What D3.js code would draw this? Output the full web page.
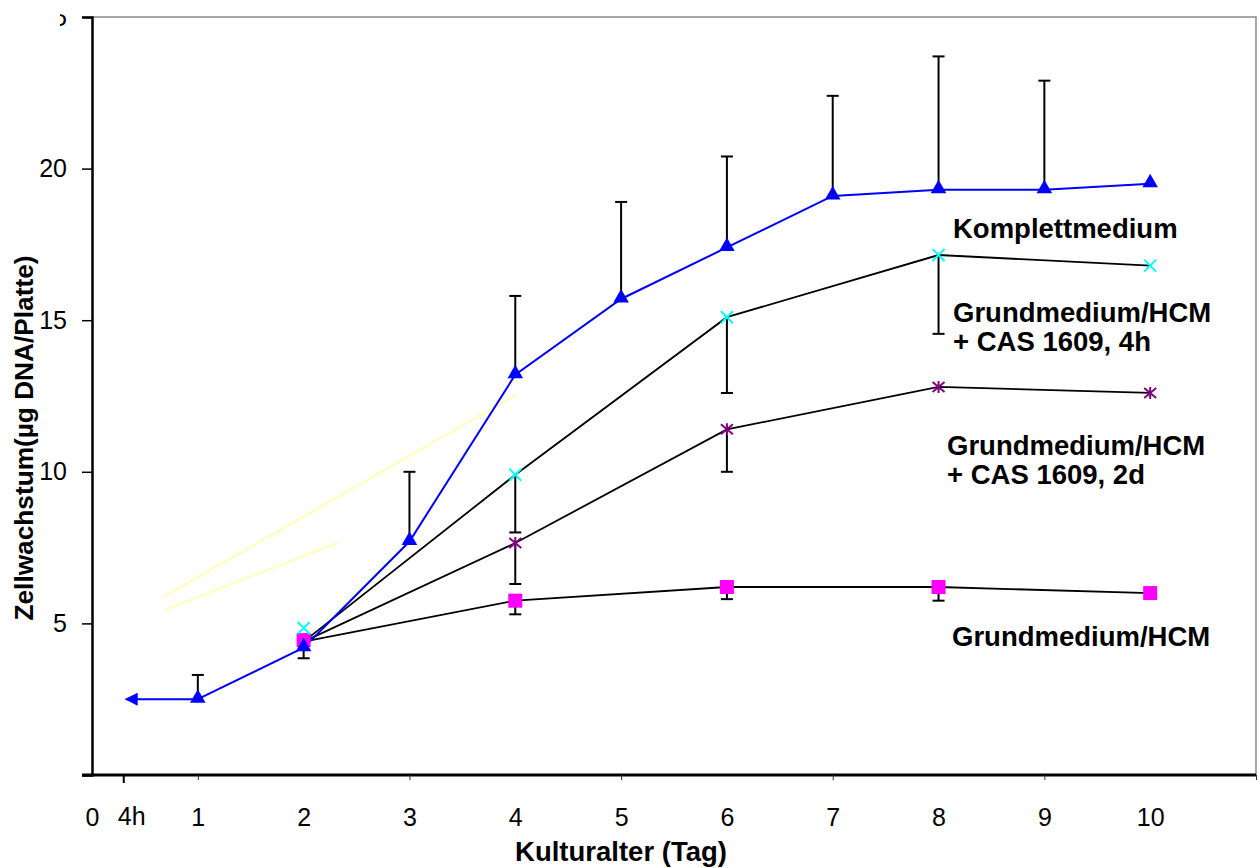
<!DOCTYPE html>
<html>
<head>
<meta charset="utf-8">
<script src="https://cdn.jsdelivr.net/npm/d3@7"></script>
<style>
  html, body { margin: 0; padding: 0; background: #fff; }
  svg { display: block; font-family: "Liberation Sans", Arial, sans-serif; }
</style>
</head>
<body>
<svg id="chart" width="1260" height="868"></svg>
<script>
// values
var kompDays = [1, 2, 3, 4, 5, 6, 7, 8, 9, 10]
var kompMean = [2.5, 4.2, 7.7, 13.2, 15.7, 17.4, 19.1, 19.3, 19.3, 19.5]
var kompErr = [0.8, 0, 2.3, 2.6, 3.2, 3.0, 3.3, 4.4, 3.6, 0]   // plus only

var hcmDays = [2, 4, 6, 8, 10]
var hcmMean = [4.45, 5.75, 6.2, 6.2, 6.0]
var hcmErr = [0.6, 0.45, 0.4, 0.45, 0]        // minus only

var cas4hMean = [4.85, 9.9, 15.1, 17.15, 16.8]
var cas4hErr = [0, 1.9, 2.5, 2.6, 0]

var cas2dDays = [4, 6, 8, 10]
var cas2dMean = [7.65, 11.4, 12.8, 12.6]
var cas2dErr = [1.35, 1.4, 0, 0]

// start of the black connecting lines (day 2)
var lineStart = { d: 2, v: 4.4 }

// the two faint yellow lines
var trendA = [[0.68, 5.88], [4.02, 12.56]]
var trendB = [[0.68, 5.44], [2.32, 7.65]]

var arrowDay = 0.3   // "4h" position on the axis
var xLabels = [0, 1, 2, 3, 4, 5, 6, 7, 8, 9, 10]
var xTicks = [1, 3, 5, 7, 9, 11]
var yTicks = [0, 5, 10, 15, 20, 25]

var seriesLabels = [
    { lines: ["Komplettmedium"], x: 953, y: 238 },
    { lines: ["Grundmedium/HCM", "+ CAS 1609, 4h"], x: 953, y: 322 },
    { lines: ["Grundmedium/HCM", "+ CAS 1609, 2d"], x: 947, y: 455 },
    { lines: ["Grundmedium/HCM"], x: 952, y: 646 }
]

var svg = d3.select("#chart")

var x = d3.scaleLinear().domain([0, 11]).range([92, 1256])
var y = d3.scaleLinear().domain([0, 25]).range([775, 17])

var blue = "#0000ff", cyan = "#00ffff", purple = "#800080", magenta = "#ff00ff"

// gray frame top / right
svg.append("path")
    .attr("d", "M" + x(0) + "," + y(25) + "H" + x(11) + "V" + y(0))
    .attr("fill", "none").attr("stroke", "#8a8a8a").attr("stroke-width", 1.5)

// y axis
var yAxis = svg.append("g")
    .attr("transform", "translate(" + x(0) + ",0)")
    .call(d3.axisLeft(y).tickValues(yTicks).tickSize(10).tickPadding(15)
        .tickFormat(function (d) { return d === 0 ? "" : d }))
yAxis.select(".domain").attr("stroke", "#000").attr("stroke-width", 2.5)
yAxis.selectAll(".tick line").attr("stroke", "#000").attr("stroke-width", 1.5)
yAxis.selectAll(".tick text").attr("font-size", 25).attr("fill", "#000")
    .attr("font-family", "Liberation Sans, Arial, sans-serif")

// the "25" label is cut off in the original
svg.append("defs").append("clipPath").attr("id", "cut25")
    .append("rect").attr("x", -32).attr("y", -5).attr("width", 40).attr("height", 40)
yAxis.selectAll(".tick").filter(function (d) { return d === 25 })
    .select("text").attr("clip-path", "url(#cut25)")

// x axis
var xAxis = svg.append("g")
    .attr("transform", "translate(0," + y(0) + ")")
    .call(d3.axisBottom(x).tickValues(xTicks).tickSize(5).tickFormat(""))
xAxis.select(".domain").attr("stroke", "#000").attr("stroke-width", 3)
    .attr("d", "M" + (x(0) - 10) + ",0H" + x(11))
xAxis.selectAll(".tick line").attr("stroke", "#333").attr("stroke-width", 1)

svg.append("line")
    .attr("x1", x(arrowDay)).attr("x2", x(arrowDay))
    .attr("y1", y(0)).attr("y2", y(0) + 8)
    .attr("stroke", "#000").attr("stroke-width", 2)

var xLab = svg.append("g")
    .attr("transform", "translate(0," + y(0) + ")")
    .call(d3.axisBottom(x).tickValues(xLabels).tickSize(0).tickPadding(33))
xLab.select(".domain").remove()
xLab.selectAll(".tick text").attr("font-size", 25).attr("fill", "#000")
    .attr("font-family", "Liberation Sans, Arial, sans-serif")

svg.append("text")
    .attr("x", x(arrowDay) + 8).attr("y", y(0) + 50)
    .attr("text-anchor", "middle").attr("font-size", 25)
    .text("4h")

// axis titles
svg.append("text")
    .attr("x", 621).attr("y", 861)
    .attr("text-anchor", "middle").attr("font-size", 27.5).attr("font-weight", "bold")
    .text("Kulturalter (Tag)")

svg.append("text")
    .attr("transform", "translate(33,438) rotate(-90)")
    .attr("text-anchor", "middle").attr("font-size", 26).attr("font-weight", "bold")
    .attr("textLength", 365).attr("lengthAdjust", "spacingAndGlyphs")
    .text("Zellwachstum(µg DNA/Platte)")

// faint yellow lines
var line = d3.line().x(function (d) { return x(d[0]) }).y(function (d) { return y(d[1]) })
;[trendA, trendB].forEach(function (t) {
    svg.append("path").attr("d", line(t))
        .attr("fill", "none").attr("stroke", "#ffffb8").attr("stroke-width", 2)
})

// black connecting lines
function pts(days, vals) {
    return days.map(function (d, i) { return [d, vals[i]] })
}
var blackLines = [
    [[lineStart.d, lineStart.v]].concat(pts(hcmDays.slice(1), hcmMean.slice(1))),
    [[lineStart.d, lineStart.v]].concat(pts(hcmDays.slice(1), cas4hMean.slice(1))),
    [[lineStart.d, lineStart.v]].concat(pts(cas2dDays, cas2dMean))
]
blackLines.forEach(function (l) {
    svg.append("path").attr("d", line(l))
        .attr("fill", "none").attr("stroke", "#000").attr("stroke-width", 1.8)
})

// blue line + arrow to 4h
svg.append("defs").append("marker")
    .attr("id", "arrow").attr("viewBox", "0 0 12 12")
    .attr("markerWidth", 13).attr("markerHeight", 13)
    .attr("markerUnits", "userSpaceOnUse")
    .attr("refX", 11).attr("refY", 6).attr("orient", "auto")
    .append("path").attr("d", "M0,0L12,6L0,12Z").attr("fill", blue)

svg.append("path").attr("d", line(pts(kompDays, kompMean)))
    .attr("fill", "none").attr("stroke", blue).attr("stroke-width", 2)
svg.append("line")
    .attr("x1", x(kompDays[0])).attr("y1", y(kompMean[0]))
    .attr("x2", x(arrowDay) + 2).attr("y2", y(kompMean[0]))
    .attr("stroke", blue).attr("stroke-width", 2)
    .attr("marker-end", "url(#arrow)")

// error bars
function errBars(days, vals, errs, sign) {
    var g = svg.append("g").attr("stroke", "#000").attr("stroke-width", 2)
    days.forEach(function (d, i) {
        if (!errs[i]) return
        var x0 = x(d), y0 = y(vals[i]), y1 = y(vals[i] + sign * errs[i])
        g.append("line").attr("x1", x0).attr("x2", x0).attr("y1", y0).attr("y2", y1)
        g.append("line").attr("x1", x0 - 6).attr("x2", x0 + 6).attr("y1", y1).attr("y2", y1)
    })
}
errBars(kompDays, kompMean, kompErr, 1)
errBars(hcmDays, hcmMean, hcmErr, -1)
errBars(hcmDays, cas4hMean, cas4hErr, -1)
errBars(cas2dDays, cas2dMean, cas2dErr, -1)

// markers
svg.append("g").selectAll("path")
    .data(pts(hcmDays, hcmMean)).enter().append("path")
    .attr("transform", function (d) { return "translate(" + x(d[0]) + "," + y(d[1]) + ")" })
    .attr("d", d3.symbol(d3.symbolSquare, 196))
    .attr("fill", magenta)

svg.append("g").selectAll("path")
    .data(pts(kompDays, kompMean)).enter().append("path")
    .attr("transform", function (d) { return "translate(" + x(d[0]) + "," + (y(d[1]) - 1) + ")" })
    .attr("d", d3.symbol(d3.symbolTriangle, 105))
    .attr("fill", blue)

svg.append("g").selectAll("path")
    .data(pts(hcmDays, cas4hMean)).enter().append("path")
    .attr("transform", function (d) { return "translate(" + x(d[0]) + "," + y(d[1]) + ")" })
    .attr("d", "M-6,-6L6,6M-6,6L6,-6")
    .attr("stroke", cyan).attr("stroke-width", 2).attr("fill", "none")

svg.append("g").selectAll("path")
    .data(pts(cas2dDays, cas2dMean)).enter().append("path")
    .attr("transform", function (d) { return "translate(" + x(d[0]) + "," + y(d[1]) + ")" })
    .attr("d", "M-6,-5L6,5M-6,5L6,-5M0,-6V6")
    .attr("stroke", purple).attr("stroke-width", 2).attr("fill", "none")

// series labels
seriesLabels.forEach(function (s) {
    var t = svg.append("text")
        .attr("x", s.x).attr("y", s.y)
        .attr("font-size", 27.5).attr("font-weight", "bold")
    s.lines.forEach(function (l, i) {
        t.append("tspan").attr("x", s.x).attr("dy", i === 0 ? 0 : 29).text(l)
    })
})
</script>
</body>
</html>
